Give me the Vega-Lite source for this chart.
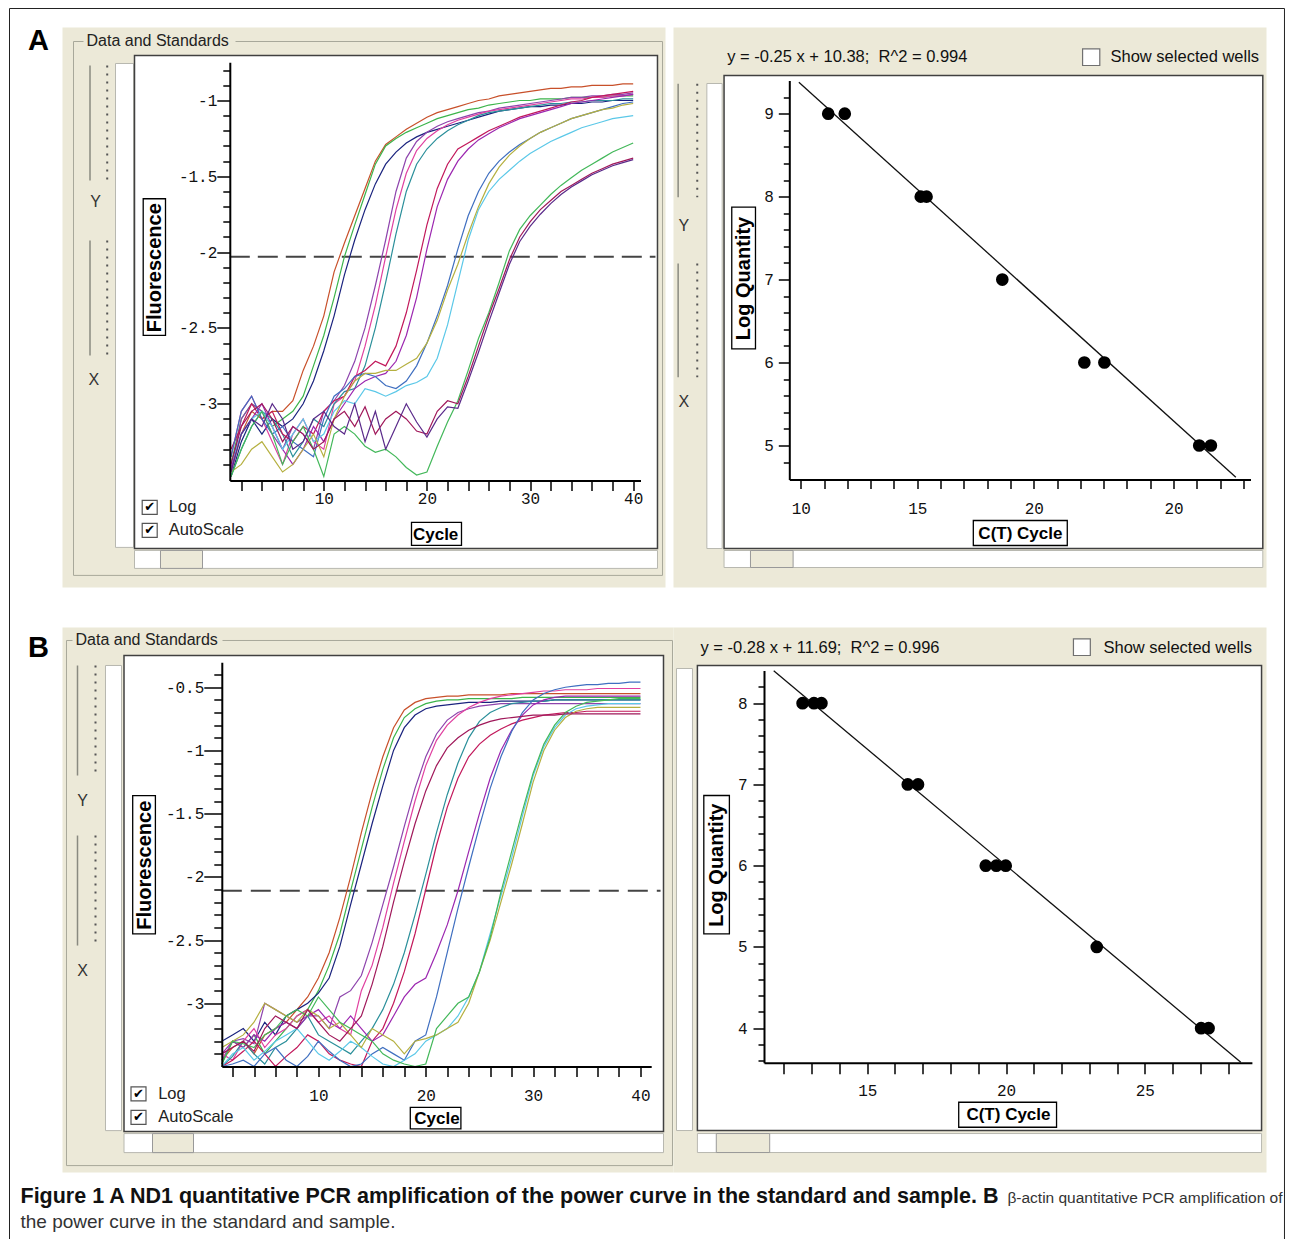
{
"$schema": "https://vega.github.io/schema/vega-lite/v6.json",
"background": "white",
"padding": {"left": 8.5, "top": 7.5, "right": 5.5, "bottom": 0},
"datasets": {
"curvesA": [
{"s":"a1","x":1,"y":-3.45},{"s":"a1","x":2,"y":-3.2},{"s":"a1","x":3,"y":-3.05},{"s":"a1","x":4,"y":-3.1},{"s":"a1","x":5,"y":-3.05},{"s":"a1","x":6,"y":-3.05},{"s":"a1","x":7,"y":-2.98},{"s":"a1","x":8,"y":-2.78},{"s":"a1","x":9,"y":-2.62},{"s":"a1","x":10,"y":-2.42},{"s":"a1","x":11,"y":-2.13},{"s":"a1","x":12,"y":-1.94},{"s":"a1","x":13,"y":-1.76},{"s":"a1","x":14,"y":-1.58},{"s":"a1","x":15,"y":-1.4},{"s":"a1","x":16,"y":-1.29},{"s":"a1","x":17,"y":-1.24},{"s":"a1","x":18,"y":-1.19},{"s":"a1","x":19,"y":-1.15},{"s":"a1","x":20,"y":-1.11},{"s":"a1","x":21,"y":-1.08},{"s":"a1","x":22,"y":-1.06},{"s":"a1","x":23,"y":-1.04},{"s":"a1","x":24,"y":-1.02},{"s":"a1","x":25,"y":-1},{"s":"a1","x":26,"y":-0.99},{"s":"a1","x":27,"y":-0.97},{"s":"a1","x":28,"y":-0.96},{"s":"a1","x":29,"y":-0.95},{"s":"a1","x":30,"y":-0.94},{"s":"a1","x":31,"y":-0.93},{"s":"a1","x":32,"y":-0.92},{"s":"a1","x":33,"y":-0.92},{"s":"a1","x":34,"y":-0.91},{"s":"a1","x":35,"y":-0.91},{"s":"a1","x":36,"y":-0.9},{"s":"a1","x":37,"y":-0.9},{"s":"a1","x":38,"y":-0.9},{"s":"a1","x":39,"y":-0.89},{"s":"a1","x":40,"y":-0.89},
{"s":"a2","x":1,"y":-3.4},{"s":"a2","x":2,"y":-3.1},{"s":"a2","x":3,"y":-3},{"s":"a2","x":4,"y":-3.05},{"s":"a2","x":5,"y":-3.15},{"s":"a2","x":6,"y":-3.1},{"s":"a2","x":7,"y":-3.05},{"s":"a2","x":8,"y":-2.95},{"s":"a2","x":9,"y":-2.75},{"s":"a2","x":10,"y":-2.55},{"s":"a2","x":11,"y":-2.3},{"s":"a2","x":12,"y":-2.03},{"s":"a2","x":13,"y":-1.82},{"s":"a2","x":14,"y":-1.62},{"s":"a2","x":15,"y":-1.42},{"s":"a2","x":16,"y":-1.3},{"s":"a2","x":17,"y":-1.25},{"s":"a2","x":18,"y":-1.21},{"s":"a2","x":19,"y":-1.18},{"s":"a2","x":20,"y":-1.15},{"s":"a2","x":21,"y":-1.12},{"s":"a2","x":22,"y":-1.1},{"s":"a2","x":23,"y":-1.08},{"s":"a2","x":24,"y":-1.06},{"s":"a2","x":25,"y":-1.05},{"s":"a2","x":26,"y":-1.03},{"s":"a2","x":27,"y":-1.02},{"s":"a2","x":28,"y":-1.01},{"s":"a2","x":29,"y":-1},{"s":"a2","x":30,"y":-1},{"s":"a2","x":31,"y":-0.99},{"s":"a2","x":32,"y":-0.99},{"s":"a2","x":33,"y":-0.99},{"s":"a2","x":34,"y":-0.98},{"s":"a2","x":35,"y":-0.98},{"s":"a2","x":36,"y":-0.98},{"s":"a2","x":37,"y":-0.98},{"s":"a2","x":38,"y":-0.97},{"s":"a2","x":39,"y":-0.97},{"s":"a2","x":40,"y":-0.97},
{"s":"a3","x":1,"y":-3.48},{"s":"a3","x":2,"y":-3.25},{"s":"a3","x":3,"y":-3.1},{"s":"a3","x":4,"y":-3.2},{"s":"a3","x":5,"y":-3.1},{"s":"a3","x":6,"y":-3.15},{"s":"a3","x":7,"y":-3.1},{"s":"a3","x":8,"y":-3},{"s":"a3","x":9,"y":-2.85},{"s":"a3","x":10,"y":-2.65},{"s":"a3","x":11,"y":-2.42},{"s":"a3","x":12,"y":-2.15},{"s":"a3","x":13,"y":-1.92},{"s":"a3","x":14,"y":-1.72},{"s":"a3","x":15,"y":-1.55},{"s":"a3","x":16,"y":-1.42},{"s":"a3","x":17,"y":-1.34},{"s":"a3","x":18,"y":-1.28},{"s":"a3","x":19,"y":-1.24},{"s":"a3","x":20,"y":-1.21},{"s":"a3","x":21,"y":-1.19},{"s":"a3","x":22,"y":-1.17},{"s":"a3","x":23,"y":-1.15},{"s":"a3","x":24,"y":-1.13},{"s":"a3","x":25,"y":-1.11},{"s":"a3","x":26,"y":-1.09},{"s":"a3","x":27,"y":-1.07},{"s":"a3","x":28,"y":-1.06},{"s":"a3","x":29,"y":-1.05},{"s":"a3","x":30,"y":-1.04},{"s":"a3","x":31,"y":-1.04},{"s":"a3","x":32,"y":-1.03},{"s":"a3","x":33,"y":-1.03},{"s":"a3","x":34,"y":-1.02},{"s":"a3","x":35,"y":-1.02},{"s":"a3","x":36,"y":-1.01},{"s":"a3","x":37,"y":-1.01},{"s":"a3","x":38,"y":-1},{"s":"a3","x":39,"y":-1},{"s":"a3","x":40,"y":-1},
{"s":"a4","x":1,"y":-3.45},{"s":"a4","x":2,"y":-3.1},{"s":"a4","x":3,"y":-3},{"s":"a4","x":4,"y":-3.05},{"s":"a4","x":5,"y":-3.2},{"s":"a4","x":6,"y":-3.3},{"s":"a4","x":7,"y":-3.15},{"s":"a4","x":8,"y":-3.2},{"s":"a4","x":9,"y":-3.3},{"s":"a4","x":10,"y":-3.05},{"s":"a4","x":11,"y":-2.98},{"s":"a4","x":12,"y":-2.88},{"s":"a4","x":13,"y":-2.72},{"s":"a4","x":14,"y":-2.5},{"s":"a4","x":15,"y":-2.22},{"s":"a4","x":16,"y":-1.92},{"s":"a4","x":17,"y":-1.6},{"s":"a4","x":18,"y":-1.38},{"s":"a4","x":19,"y":-1.27},{"s":"a4","x":20,"y":-1.21},{"s":"a4","x":21,"y":-1.17},{"s":"a4","x":22,"y":-1.14},{"s":"a4","x":23,"y":-1.12},{"s":"a4","x":24,"y":-1.1},{"s":"a4","x":25,"y":-1.08},{"s":"a4","x":26,"y":-1.07},{"s":"a4","x":27,"y":-1.05},{"s":"a4","x":28,"y":-1.04},{"s":"a4","x":29,"y":-1.03},{"s":"a4","x":30,"y":-1.02},{"s":"a4","x":31,"y":-1.01},{"s":"a4","x":32,"y":-1},{"s":"a4","x":33,"y":-0.99},{"s":"a4","x":34,"y":-0.98},{"s":"a4","x":35,"y":-0.98},{"s":"a4","x":36,"y":-0.97},{"s":"a4","x":37,"y":-0.97},{"s":"a4","x":38,"y":-0.96},{"s":"a4","x":39,"y":-0.96},{"s":"a4","x":40,"y":-0.95},
{"s":"a5","x":1,"y":-3.35},{"s":"a5","x":2,"y":-3.05},{"s":"a5","x":3,"y":-2.95},{"s":"a5","x":4,"y":-3.1},{"s":"a5","x":5,"y":-3.25},{"s":"a5","x":6,"y":-3.4},{"s":"a5","x":7,"y":-3.2},{"s":"a5","x":8,"y":-3.1},{"s":"a5","x":9,"y":-3.25},{"s":"a5","x":10,"y":-3.3},{"s":"a5","x":11,"y":-3},{"s":"a5","x":12,"y":-2.95},{"s":"a5","x":13,"y":-2.85},{"s":"a5","x":14,"y":-2.62},{"s":"a5","x":15,"y":-2.35},{"s":"a5","x":16,"y":-2.03},{"s":"a5","x":17,"y":-1.72},{"s":"a5","x":18,"y":-1.48},{"s":"a5","x":19,"y":-1.33},{"s":"a5","x":20,"y":-1.25},{"s":"a5","x":21,"y":-1.2},{"s":"a5","x":22,"y":-1.16},{"s":"a5","x":23,"y":-1.13},{"s":"a5","x":24,"y":-1.11},{"s":"a5","x":25,"y":-1.09},{"s":"a5","x":26,"y":-1.07},{"s":"a5","x":27,"y":-1.06},{"s":"a5","x":28,"y":-1.05},{"s":"a5","x":29,"y":-1.04},{"s":"a5","x":30,"y":-1.03},{"s":"a5","x":31,"y":-1.02},{"s":"a5","x":32,"y":-1.01},{"s":"a5","x":33,"y":-1},{"s":"a5","x":34,"y":-0.99},{"s":"a5","x":35,"y":-0.99},{"s":"a5","x":36,"y":-0.98},{"s":"a5","x":37,"y":-0.98},{"s":"a5","x":38,"y":-0.97},{"s":"a5","x":39,"y":-0.97},{"s":"a5","x":40,"y":-0.96},
{"s":"a6","x":1,"y":-3.48},{"s":"a6","x":2,"y":-3.3},{"s":"a6","x":3,"y":-3.15},{"s":"a6","x":4,"y":-3.05},{"s":"a6","x":5,"y":-3.1},{"s":"a6","x":6,"y":-3.2},{"s":"a6","x":7,"y":-3.35},{"s":"a6","x":8,"y":-3.25},{"s":"a6","x":9,"y":-3.1},{"s":"a6","x":10,"y":-3.15},{"s":"a6","x":11,"y":-3},{"s":"a6","x":12,"y":-2.92},{"s":"a6","x":13,"y":-2.9},{"s":"a6","x":14,"y":-2.75},{"s":"a6","x":15,"y":-2.5},{"s":"a6","x":16,"y":-2.2},{"s":"a6","x":17,"y":-1.88},{"s":"a6","x":18,"y":-1.6},{"s":"a6","x":19,"y":-1.42},{"s":"a6","x":20,"y":-1.32},{"s":"a6","x":21,"y":-1.25},{"s":"a6","x":22,"y":-1.2},{"s":"a6","x":23,"y":-1.16},{"s":"a6","x":24,"y":-1.13},{"s":"a6","x":25,"y":-1.1},{"s":"a6","x":26,"y":-1.08},{"s":"a6","x":27,"y":-1.07},{"s":"a6","x":28,"y":-1.06},{"s":"a6","x":29,"y":-1.05},{"s":"a6","x":30,"y":-1.04},{"s":"a6","x":31,"y":-1.03},{"s":"a6","x":32,"y":-1.02},{"s":"a6","x":33,"y":-1.02},{"s":"a6","x":34,"y":-1.01},{"s":"a6","x":35,"y":-1.01},{"s":"a6","x":36,"y":-1},{"s":"a6","x":37,"y":-1},{"s":"a6","x":38,"y":-1},{"s":"a6","x":39,"y":-0.99},{"s":"a6","x":40,"y":-0.99},
{"s":"a7","x":1,"y":-3.3},{"s":"a7","x":2,"y":-3.15},{"s":"a7","x":3,"y":-3},{"s":"a7","x":4,"y":-3.1},{"s":"a7","x":5,"y":-3.05},{"s":"a7","x":6,"y":-3.2},{"s":"a7","x":7,"y":-3.25},{"s":"a7","x":8,"y":-3.15},{"s":"a7","x":9,"y":-3.2},{"s":"a7","x":10,"y":-3.05},{"s":"a7","x":11,"y":-2.98},{"s":"a7","x":12,"y":-2.95},{"s":"a7","x":13,"y":-2.82},{"s":"a7","x":14,"y":-2.78},{"s":"a7","x":15,"y":-2.72},{"s":"a7","x":16,"y":-2.75},{"s":"a7","x":17,"y":-2.62},{"s":"a7","x":18,"y":-2.4},{"s":"a7","x":19,"y":-2.12},{"s":"a7","x":20,"y":-1.82},{"s":"a7","x":21,"y":-1.58},{"s":"a7","x":22,"y":-1.42},{"s":"a7","x":23,"y":-1.32},{"s":"a7","x":24,"y":-1.28},{"s":"a7","x":25,"y":-1.24},{"s":"a7","x":26,"y":-1.2},{"s":"a7","x":27,"y":-1.17},{"s":"a7","x":28,"y":-1.14},{"s":"a7","x":29,"y":-1.11},{"s":"a7","x":30,"y":-1.09},{"s":"a7","x":31,"y":-1.07},{"s":"a7","x":32,"y":-1.05},{"s":"a7","x":33,"y":-1.03},{"s":"a7","x":34,"y":-1.01},{"s":"a7","x":35,"y":-1},{"s":"a7","x":36,"y":-0.98},{"s":"a7","x":37,"y":-0.97},{"s":"a7","x":38,"y":-0.96},{"s":"a7","x":39,"y":-0.95},{"s":"a7","x":40,"y":-0.94},
{"s":"a8","x":1,"y":-3.42},{"s":"a8","x":2,"y":-3.2},{"s":"a8","x":3,"y":-3.1},{"s":"a8","x":4,"y":-3},{"s":"a8","x":5,"y":-3.15},{"s":"a8","x":6,"y":-3.3},{"s":"a8","x":7,"y":-3.4},{"s":"a8","x":8,"y":-3.3},{"s":"a8","x":9,"y":-3.15},{"s":"a8","x":10,"y":-3.25},{"s":"a8","x":11,"y":-3.1},{"s":"a8","x":12,"y":-3},{"s":"a8","x":13,"y":-2.9},{"s":"a8","x":14,"y":-2.85},{"s":"a8","x":15,"y":-2.82},{"s":"a8","x":16,"y":-2.8},{"s":"a8","x":17,"y":-2.72},{"s":"a8","x":18,"y":-2.55},{"s":"a8","x":19,"y":-2.3},{"s":"a8","x":20,"y":-1.98},{"s":"a8","x":21,"y":-1.7},{"s":"a8","x":22,"y":-1.52},{"s":"a8","x":23,"y":-1.4},{"s":"a8","x":24,"y":-1.32},{"s":"a8","x":25,"y":-1.26},{"s":"a8","x":26,"y":-1.22},{"s":"a8","x":27,"y":-1.18},{"s":"a8","x":28,"y":-1.15},{"s":"a8","x":29,"y":-1.12},{"s":"a8","x":30,"y":-1.1},{"s":"a8","x":31,"y":-1.08},{"s":"a8","x":32,"y":-1.06},{"s":"a8","x":33,"y":-1.04},{"s":"a8","x":34,"y":-1.02},{"s":"a8","x":35,"y":-1.01},{"s":"a8","x":36,"y":-1},{"s":"a8","x":37,"y":-0.99},{"s":"a8","x":38,"y":-0.98},{"s":"a8","x":39,"y":-0.97},{"s":"a8","x":40,"y":-0.96},
{"s":"a9","x":1,"y":-3.35},{"s":"a9","x":2,"y":-3.05},{"s":"a9","x":3,"y":-2.95},{"s":"a9","x":4,"y":-3.1},{"s":"a9","x":5,"y":-3.2},{"s":"a9","x":6,"y":-3.15},{"s":"a9","x":7,"y":-3.25},{"s":"a9","x":8,"y":-3.3},{"s":"a9","x":9,"y":-3.35},{"s":"a9","x":10,"y":-3.1},{"s":"a9","x":11,"y":-2.95},{"s":"a9","x":12,"y":-2.9},{"s":"a9","x":13,"y":-2.82},{"s":"a9","x":14,"y":-2.8},{"s":"a9","x":15,"y":-2.82},{"s":"a9","x":16,"y":-2.88},{"s":"a9","x":17,"y":-2.9},{"s":"a9","x":18,"y":-2.85},{"s":"a9","x":19,"y":-2.75},{"s":"a9","x":20,"y":-2.6},{"s":"a9","x":21,"y":-2.42},{"s":"a9","x":22,"y":-2.22},{"s":"a9","x":23,"y":-1.98},{"s":"a9","x":24,"y":-1.76},{"s":"a9","x":25,"y":-1.6},{"s":"a9","x":26,"y":-1.48},{"s":"a9","x":27,"y":-1.4},{"s":"a9","x":28,"y":-1.34},{"s":"a9","x":29,"y":-1.29},{"s":"a9","x":30,"y":-1.25},{"s":"a9","x":31,"y":-1.21},{"s":"a9","x":32,"y":-1.18},{"s":"a9","x":33,"y":-1.15},{"s":"a9","x":34,"y":-1.12},{"s":"a9","x":35,"y":-1.1},{"s":"a9","x":36,"y":-1.08},{"s":"a9","x":37,"y":-1.06},{"s":"a9","x":38,"y":-1.04},{"s":"a9","x":39,"y":-1.02},{"s":"a9","x":40,"y":-1.01},
{"s":"a10","x":1,"y":-3.4},{"s":"a10","x":2,"y":-3.2},{"s":"a10","x":3,"y":-3.1},{"s":"a10","x":4,"y":-3.05},{"s":"a10","x":5,"y":-3.15},{"s":"a10","x":6,"y":-3.3},{"s":"a10","x":7,"y":-3.2},{"s":"a10","x":8,"y":-3.1},{"s":"a10","x":9,"y":-3.25},{"s":"a10","x":10,"y":-3.2},{"s":"a10","x":11,"y":-3.05},{"s":"a10","x":12,"y":-2.98},{"s":"a10","x":13,"y":-3},{"s":"a10","x":14,"y":-2.9},{"s":"a10","x":15,"y":-2.92},{"s":"a10","x":16,"y":-2.95},{"s":"a10","x":17,"y":-2.92},{"s":"a10","x":18,"y":-2.88},{"s":"a10","x":19,"y":-2.86},{"s":"a10","x":20,"y":-2.82},{"s":"a10","x":21,"y":-2.7},{"s":"a10","x":22,"y":-2.48},{"s":"a10","x":23,"y":-2.2},{"s":"a10","x":24,"y":-1.92},{"s":"a10","x":25,"y":-1.72},{"s":"a10","x":26,"y":-1.6},{"s":"a10","x":27,"y":-1.52},{"s":"a10","x":28,"y":-1.46},{"s":"a10","x":29,"y":-1.4},{"s":"a10","x":30,"y":-1.35},{"s":"a10","x":31,"y":-1.31},{"s":"a10","x":32,"y":-1.27},{"s":"a10","x":33,"y":-1.24},{"s":"a10","x":34,"y":-1.21},{"s":"a10","x":35,"y":-1.18},{"s":"a10","x":36,"y":-1.16},{"s":"a10","x":37,"y":-1.14},{"s":"a10","x":38,"y":-1.12},{"s":"a10","x":39,"y":-1.11},{"s":"a10","x":40,"y":-1.1},
{"s":"a11","x":1,"y":-3.45},{"s":"a11","x":2,"y":-3.4},{"s":"a11","x":3,"y":-3.3},{"s":"a11","x":4,"y":-3.25},{"s":"a11","x":5,"y":-3.35},{"s":"a11","x":6,"y":-3.45},{"s":"a11","x":7,"y":-3.4},{"s":"a11","x":8,"y":-3.3},{"s":"a11","x":9,"y":-3.2},{"s":"a11","x":10,"y":-3.35},{"s":"a11","x":11,"y":-3.1},{"s":"a11","x":12,"y":-2.95},{"s":"a11","x":13,"y":-2.85},{"s":"a11","x":14,"y":-2.8},{"s":"a11","x":15,"y":-2.8},{"s":"a11","x":16,"y":-2.78},{"s":"a11","x":17,"y":-2.78},{"s":"a11","x":18,"y":-2.74},{"s":"a11","x":19,"y":-2.7},{"s":"a11","x":20,"y":-2.6},{"s":"a11","x":21,"y":-2.45},{"s":"a11","x":22,"y":-2.25},{"s":"a11","x":23,"y":-2.08},{"s":"a11","x":24,"y":-1.88},{"s":"a11","x":25,"y":-1.7},{"s":"a11","x":26,"y":-1.55},{"s":"a11","x":27,"y":-1.44},{"s":"a11","x":28,"y":-1.36},{"s":"a11","x":29,"y":-1.3},{"s":"a11","x":30,"y":-1.25},{"s":"a11","x":31,"y":-1.21},{"s":"a11","x":32,"y":-1.18},{"s":"a11","x":33,"y":-1.15},{"s":"a11","x":34,"y":-1.12},{"s":"a11","x":35,"y":-1.1},{"s":"a11","x":36,"y":-1.08},{"s":"a11","x":37,"y":-1.06},{"s":"a11","x":38,"y":-1.05},{"s":"a11","x":39,"y":-1.03},{"s":"a11","x":40,"y":-1.02},
{"s":"a12","x":1,"y":-3.48},{"s":"a12","x":2,"y":-3.3},{"s":"a12","x":3,"y":-3.15},{"s":"a12","x":4,"y":-3.05},{"s":"a12","x":5,"y":-3.2},{"s":"a12","x":6,"y":-3.4},{"s":"a12","x":7,"y":-3.25},{"s":"a12","x":8,"y":-3.15},{"s":"a12","x":9,"y":-3.3},{"s":"a12","x":10,"y":-3.48},{"s":"a12","x":11,"y":-3.2},{"s":"a12","x":12,"y":-3.15},{"s":"a12","x":13,"y":-3.2},{"s":"a12","x":14,"y":-3.28},{"s":"a12","x":15,"y":-3.32},{"s":"a12","x":16,"y":-3.3},{"s":"a12","x":17,"y":-3.35},{"s":"a12","x":18,"y":-3.42},{"s":"a12","x":19,"y":-3.47},{"s":"a12","x":20,"y":-3.45},{"s":"a12","x":21,"y":-3.28},{"s":"a12","x":22,"y":-3.12},{"s":"a12","x":23,"y":-2.98},{"s":"a12","x":24,"y":-2.78},{"s":"a12","x":25,"y":-2.57},{"s":"a12","x":26,"y":-2.4},{"s":"a12","x":27,"y":-2.2},{"s":"a12","x":28,"y":-1.99},{"s":"a12","x":29,"y":-1.85},{"s":"a12","x":30,"y":-1.76},{"s":"a12","x":31,"y":-1.69},{"s":"a12","x":32,"y":-1.62},{"s":"a12","x":33,"y":-1.56},{"s":"a12","x":34,"y":-1.51},{"s":"a12","x":35,"y":-1.46},{"s":"a12","x":36,"y":-1.42},{"s":"a12","x":37,"y":-1.38},{"s":"a12","x":38,"y":-1.34},{"s":"a12","x":39,"y":-1.31},{"s":"a12","x":40,"y":-1.28},
{"s":"a13","x":1,"y":-3.4},{"s":"a13","x":2,"y":-3.15},{"s":"a13","x":3,"y":-3.05},{"s":"a13","x":4,"y":-3},{"s":"a13","x":5,"y":-3.1},{"s":"a13","x":6,"y":-3.25},{"s":"a13","x":7,"y":-3.15},{"s":"a13","x":8,"y":-3.2},{"s":"a13","x":9,"y":-3.3},{"s":"a13","x":10,"y":-3.25},{"s":"a13","x":11,"y":-3.1},{"s":"a13","x":12,"y":-3.05},{"s":"a13","x":13,"y":-3.15},{"s":"a13","x":14,"y":-3.02},{"s":"a13","x":15,"y":-3.2},{"s":"a13","x":16,"y":-3.1},{"s":"a13","x":17,"y":-3.05},{"s":"a13","x":18,"y":-3.1},{"s":"a13","x":19,"y":-3.18},{"s":"a13","x":20,"y":-3.2},{"s":"a13","x":21,"y":-3.05},{"s":"a13","x":22,"y":-2.98},{"s":"a13","x":23,"y":-3},{"s":"a13","x":24,"y":-2.82},{"s":"a13","x":25,"y":-2.62},{"s":"a13","x":26,"y":-2.42},{"s":"a13","x":27,"y":-2.24},{"s":"a13","x":28,"y":-2.05},{"s":"a13","x":29,"y":-1.9},{"s":"a13","x":30,"y":-1.8},{"s":"a13","x":31,"y":-1.72},{"s":"a13","x":32,"y":-1.66},{"s":"a13","x":33,"y":-1.6},{"s":"a13","x":34,"y":-1.56},{"s":"a13","x":35,"y":-1.52},{"s":"a13","x":36,"y":-1.48},{"s":"a13","x":37,"y":-1.45},{"s":"a13","x":38,"y":-1.42},{"s":"a13","x":39,"y":-1.4},{"s":"a13","x":40,"y":-1.38},
{"s":"a14","x":1,"y":-3.45},{"s":"a14","x":2,"y":-3.2},{"s":"a14","x":3,"y":-3.1},{"s":"a14","x":4,"y":-3.15},{"s":"a14","x":5,"y":-3},{"s":"a14","x":6,"y":-3.1},{"s":"a14","x":7,"y":-3.3},{"s":"a14","x":8,"y":-3.25},{"s":"a14","x":9,"y":-3.1},{"s":"a14","x":10,"y":-3.05},{"s":"a14","x":11,"y":-3.15},{"s":"a14","x":12,"y":-3.2},{"s":"a14","x":13,"y":-3},{"s":"a14","x":14,"y":-3.25},{"s":"a14","x":15,"y":-3.05},{"s":"a14","x":16,"y":-3.3},{"s":"a14","x":17,"y":-3.15},{"s":"a14","x":18,"y":-3},{"s":"a14","x":19,"y":-3.12},{"s":"a14","x":20,"y":-3.22},{"s":"a14","x":21,"y":-3.1},{"s":"a14","x":22,"y":-3.02},{"s":"a14","x":23,"y":-3.03},{"s":"a14","x":24,"y":-2.85},{"s":"a14","x":25,"y":-2.66},{"s":"a14","x":26,"y":-2.46},{"s":"a14","x":27,"y":-2.27},{"s":"a14","x":28,"y":-2.08},{"s":"a14","x":29,"y":-1.93},{"s":"a14","x":30,"y":-1.83},{"s":"a14","x":31,"y":-1.75},{"s":"a14","x":32,"y":-1.68},{"s":"a14","x":33,"y":-1.62},{"s":"a14","x":34,"y":-1.57},{"s":"a14","x":35,"y":-1.53},{"s":"a14","x":36,"y":-1.49},{"s":"a14","x":37,"y":-1.46},{"s":"a14","x":38,"y":-1.43},{"s":"a14","x":39,"y":-1.41},{"s":"a14","x":40,"y":-1.39}
],
"curvesB": [
{"s":"b1","x":1,"y":-3.45},{"s":"b1","x":2,"y":-3.35},{"s":"b1","x":3,"y":-3.3},{"s":"b1","x":4,"y":-3.4},{"s":"b1","x":5,"y":-3.25},{"s":"b1","x":6,"y":-3.2},{"s":"b1","x":7,"y":-3.15},{"s":"b1","x":8,"y":-3.05},{"s":"b1","x":9,"y":-2.95},{"s":"b1","x":10,"y":-2.8},{"s":"b1","x":11,"y":-2.6},{"s":"b1","x":12,"y":-2.32},{"s":"b1","x":13,"y":-2},{"s":"b1","x":14,"y":-1.65},{"s":"b1","x":15,"y":-1.33},{"s":"b1","x":16,"y":-1.05},{"s":"b1","x":17,"y":-0.82},{"s":"b1","x":18,"y":-0.68},{"s":"b1","x":19,"y":-0.62},{"s":"b1","x":20,"y":-0.59},{"s":"b1","x":21,"y":-0.58},{"s":"b1","x":22,"y":-0.57},{"s":"b1","x":23,"y":-0.57},{"s":"b1","x":24,"y":-0.56},{"s":"b1","x":25,"y":-0.56},{"s":"b1","x":26,"y":-0.56},{"s":"b1","x":27,"y":-0.56},{"s":"b1","x":28,"y":-0.55},{"s":"b1","x":29,"y":-0.55},{"s":"b1","x":30,"y":-0.55},{"s":"b1","x":31,"y":-0.55},{"s":"b1","x":32,"y":-0.55},{"s":"b1","x":33,"y":-0.55},{"s":"b1","x":34,"y":-0.55},{"s":"b1","x":35,"y":-0.55},{"s":"b1","x":36,"y":-0.55},{"s":"b1","x":37,"y":-0.55},{"s":"b1","x":38,"y":-0.55},{"s":"b1","x":39,"y":-0.55},{"s":"b1","x":40,"y":-0.55},
{"s":"b2","x":1,"y":-3.48},{"s":"b2","x":2,"y":-3.3},{"s":"b2","x":3,"y":-3.35},{"s":"b2","x":4,"y":-3.25},{"s":"b2","x":5,"y":-3.4},{"s":"b2","x":6,"y":-3.3},{"s":"b2","x":7,"y":-3.2},{"s":"b2","x":8,"y":-3.1},{"s":"b2","x":9,"y":-3.05},{"s":"b2","x":10,"y":-2.9},{"s":"b2","x":11,"y":-2.7},{"s":"b2","x":12,"y":-2.45},{"s":"b2","x":13,"y":-2.11},{"s":"b2","x":14,"y":-1.78},{"s":"b2","x":15,"y":-1.45},{"s":"b2","x":16,"y":-1.15},{"s":"b2","x":17,"y":-0.9},{"s":"b2","x":18,"y":-0.74},{"s":"b2","x":19,"y":-0.67},{"s":"b2","x":20,"y":-0.63},{"s":"b2","x":21,"y":-0.61},{"s":"b2","x":22,"y":-0.6},{"s":"b2","x":23,"y":-0.6},{"s":"b2","x":24,"y":-0.59},{"s":"b2","x":25,"y":-0.59},{"s":"b2","x":26,"y":-0.59},{"s":"b2","x":27,"y":-0.59},{"s":"b2","x":28,"y":-0.59},{"s":"b2","x":29,"y":-0.58},{"s":"b2","x":30,"y":-0.58},{"s":"b2","x":31,"y":-0.58},{"s":"b2","x":32,"y":-0.58},{"s":"b2","x":33,"y":-0.58},{"s":"b2","x":34,"y":-0.58},{"s":"b2","x":35,"y":-0.58},{"s":"b2","x":36,"y":-0.58},{"s":"b2","x":37,"y":-0.58},{"s":"b2","x":38,"y":-0.58},{"s":"b2","x":39,"y":-0.58},{"s":"b2","x":40,"y":-0.58},
{"s":"b3","x":1,"y":-3.3},{"s":"b3","x":2,"y":-3.25},{"s":"b3","x":3,"y":-3.2},{"s":"b3","x":4,"y":-3.3},{"s":"b3","x":5,"y":-3.15},{"s":"b3","x":6,"y":-3.25},{"s":"b3","x":7,"y":-3.1},{"s":"b3","x":8,"y":-3.05},{"s":"b3","x":9,"y":-3},{"s":"b3","x":10,"y":-2.92},{"s":"b3","x":11,"y":-2.8},{"s":"b3","x":12,"y":-2.55},{"s":"b3","x":13,"y":-2.22},{"s":"b3","x":14,"y":-1.9},{"s":"b3","x":15,"y":-1.58},{"s":"b3","x":16,"y":-1.28},{"s":"b3","x":17,"y":-1},{"s":"b3","x":18,"y":-0.82},{"s":"b3","x":19,"y":-0.72},{"s":"b3","x":20,"y":-0.67},{"s":"b3","x":21,"y":-0.65},{"s":"b3","x":22,"y":-0.64},{"s":"b3","x":23,"y":-0.63},{"s":"b3","x":24,"y":-0.62},{"s":"b3","x":25,"y":-0.62},{"s":"b3","x":26,"y":-0.62},{"s":"b3","x":27,"y":-0.61},{"s":"b3","x":28,"y":-0.61},{"s":"b3","x":29,"y":-0.61},{"s":"b3","x":30,"y":-0.61},{"s":"b3","x":31,"y":-0.61},{"s":"b3","x":32,"y":-0.6},{"s":"b3","x":33,"y":-0.6},{"s":"b3","x":34,"y":-0.6},{"s":"b3","x":35,"y":-0.6},{"s":"b3","x":36,"y":-0.6},{"s":"b3","x":37,"y":-0.6},{"s":"b3","x":38,"y":-0.6},{"s":"b3","x":39,"y":-0.6},{"s":"b3","x":40,"y":-0.6},
{"s":"b4","x":1,"y":-3.45},{"s":"b4","x":2,"y":-3.3},{"s":"b4","x":3,"y":-3.28},{"s":"b4","x":4,"y":-3.32},{"s":"b4","x":5,"y":-3},{"s":"b4","x":6,"y":-3.05},{"s":"b4","x":7,"y":-3.1},{"s":"b4","x":8,"y":-3.15},{"s":"b4","x":9,"y":-3.1},{"s":"b4","x":10,"y":-3.1},{"s":"b4","x":11,"y":-3.2},{"s":"b4","x":12,"y":-2.95},{"s":"b4","x":13,"y":-2.9},{"s":"b4","x":14,"y":-2.78},{"s":"b4","x":15,"y":-2.52},{"s":"b4","x":16,"y":-2.22},{"s":"b4","x":17,"y":-1.92},{"s":"b4","x":18,"y":-1.6},{"s":"b4","x":19,"y":-1.3},{"s":"b4","x":20,"y":-1.05},{"s":"b4","x":21,"y":-0.87},{"s":"b4","x":22,"y":-0.76},{"s":"b4","x":23,"y":-0.7},{"s":"b4","x":24,"y":-0.67},{"s":"b4","x":25,"y":-0.65},{"s":"b4","x":26,"y":-0.64},{"s":"b4","x":27,"y":-0.63},{"s":"b4","x":28,"y":-0.63},{"s":"b4","x":29,"y":-0.63},{"s":"b4","x":30,"y":-0.63},{"s":"b4","x":31,"y":-0.63},{"s":"b4","x":32,"y":-0.63},{"s":"b4","x":33,"y":-0.63},{"s":"b4","x":34,"y":-0.63},{"s":"b4","x":35,"y":-0.63},{"s":"b4","x":36,"y":-0.63},{"s":"b4","x":37,"y":-0.63},{"s":"b4","x":38,"y":-0.63},{"s":"b4","x":39,"y":-0.63},{"s":"b4","x":40,"y":-0.63},
{"s":"b5","x":1,"y":-3.4},{"s":"b5","x":2,"y":-3.45},{"s":"b5","x":3,"y":-3.3},{"s":"b5","x":4,"y":-3.2},{"s":"b5","x":5,"y":-3.35},{"s":"b5","x":6,"y":-3.25},{"s":"b5","x":7,"y":-3.2},{"s":"b5","x":8,"y":-3.1},{"s":"b5","x":9,"y":-3.05},{"s":"b5","x":10,"y":-3.15},{"s":"b5","x":11,"y":-3.1},{"s":"b5","x":12,"y":-3.2},{"s":"b5","x":13,"y":-3.25},{"s":"b5","x":14,"y":-2.9},{"s":"b5","x":15,"y":-2.7},{"s":"b5","x":16,"y":-2.4},{"s":"b5","x":17,"y":-2.05},{"s":"b5","x":18,"y":-1.72},{"s":"b5","x":19,"y":-1.4},{"s":"b5","x":20,"y":-1.12},{"s":"b5","x":21,"y":-0.92},{"s":"b5","x":22,"y":-0.8},{"s":"b5","x":23,"y":-0.72},{"s":"b5","x":24,"y":-0.66},{"s":"b5","x":25,"y":-0.62},{"s":"b5","x":26,"y":-0.59},{"s":"b5","x":27,"y":-0.57},{"s":"b5","x":28,"y":-0.56},{"s":"b5","x":29,"y":-0.55},{"s":"b5","x":30,"y":-0.54},{"s":"b5","x":31,"y":-0.53},{"s":"b5","x":32,"y":-0.53},{"s":"b5","x":33,"y":-0.52},{"s":"b5","x":34,"y":-0.52},{"s":"b5","x":35,"y":-0.52},{"s":"b5","x":36,"y":-0.51},{"s":"b5","x":37,"y":-0.51},{"s":"b5","x":38,"y":-0.51},{"s":"b5","x":39,"y":-0.51},{"s":"b5","x":40,"y":-0.51},
{"s":"b6","x":1,"y":-3.5},{"s":"b6","x":2,"y":-3.42},{"s":"b6","x":3,"y":-3.3},{"s":"b6","x":4,"y":-3.4},{"s":"b6","x":5,"y":-3.48},{"s":"b6","x":6,"y":-3.35},{"s":"b6","x":7,"y":-3.3},{"s":"b6","x":8,"y":-3.2},{"s":"b6","x":9,"y":-3.1},{"s":"b6","x":10,"y":-3.25},{"s":"b6","x":11,"y":-3.3},{"s":"b6","x":12,"y":-3.35},{"s":"b6","x":13,"y":-3.4},{"s":"b6","x":14,"y":-3.3},{"s":"b6","x":15,"y":-3.2},{"s":"b6","x":16,"y":-3.05},{"s":"b6","x":17,"y":-2.85},{"s":"b6","x":18,"y":-2.6},{"s":"b6","x":19,"y":-2.3},{"s":"b6","x":20,"y":-1.98},{"s":"b6","x":21,"y":-1.65},{"s":"b6","x":22,"y":-1.35},{"s":"b6","x":23,"y":-1.1},{"s":"b6","x":24,"y":-0.9},{"s":"b6","x":25,"y":-0.77},{"s":"b6","x":26,"y":-0.7},{"s":"b6","x":27,"y":-0.66},{"s":"b6","x":28,"y":-0.63},{"s":"b6","x":29,"y":-0.62},{"s":"b6","x":30,"y":-0.61},{"s":"b6","x":31,"y":-0.61},{"s":"b6","x":32,"y":-0.6},{"s":"b6","x":33,"y":-0.6},{"s":"b6","x":34,"y":-0.6},{"s":"b6","x":35,"y":-0.6},{"s":"b6","x":36,"y":-0.6},{"s":"b6","x":37,"y":-0.6},{"s":"b6","x":38,"y":-0.6},{"s":"b6","x":39,"y":-0.6},{"s":"b6","x":40,"y":-0.6},
{"s":"b7","x":1,"y":-3.5},{"s":"b7","x":2,"y":-3.45},{"s":"b7","x":3,"y":-3.38},{"s":"b7","x":4,"y":-3.3},{"s":"b7","x":5,"y":-3.4},{"s":"b7","x":6,"y":-3.5},{"s":"b7","x":7,"y":-3.42},{"s":"b7","x":8,"y":-3.35},{"s":"b7","x":9,"y":-3.25},{"s":"b7","x":10,"y":-3.3},{"s":"b7","x":11,"y":-3.4},{"s":"b7","x":12,"y":-3.45},{"s":"b7","x":13,"y":-3.48},{"s":"b7","x":14,"y":-3.5},{"s":"b7","x":15,"y":-3.3},{"s":"b7","x":16,"y":-3.2},{"s":"b7","x":17,"y":-3},{"s":"b7","x":18,"y":-2.75},{"s":"b7","x":19,"y":-2.45},{"s":"b7","x":20,"y":-2.1},{"s":"b7","x":21,"y":-1.75},{"s":"b7","x":22,"y":-1.45},{"s":"b7","x":23,"y":-1.22},{"s":"b7","x":24,"y":-1.05},{"s":"b7","x":25,"y":-0.95},{"s":"b7","x":26,"y":-0.88},{"s":"b7","x":27,"y":-0.83},{"s":"b7","x":28,"y":-0.79},{"s":"b7","x":29,"y":-0.76},{"s":"b7","x":30,"y":-0.74},{"s":"b7","x":31,"y":-0.72},{"s":"b7","x":32,"y":-0.71},{"s":"b7","x":33,"y":-0.7},{"s":"b7","x":34,"y":-0.7},{"s":"b7","x":35,"y":-0.69},{"s":"b7","x":36,"y":-0.69},{"s":"b7","x":37,"y":-0.69},{"s":"b7","x":38,"y":-0.69},{"s":"b7","x":39,"y":-0.69},{"s":"b7","x":40,"y":-0.69},
{"s":"b8","x":1,"y":-3.4},{"s":"b8","x":2,"y":-3.3},{"s":"b8","x":3,"y":-3.35},{"s":"b8","x":4,"y":-3.25},{"s":"b8","x":5,"y":-3.3},{"s":"b8","x":6,"y":-3.2},{"s":"b8","x":7,"y":-3.15},{"s":"b8","x":8,"y":-3.2},{"s":"b8","x":9,"y":-3.1},{"s":"b8","x":10,"y":-3.05},{"s":"b8","x":11,"y":-3.15},{"s":"b8","x":12,"y":-3.2},{"s":"b8","x":13,"y":-3.1},{"s":"b8","x":14,"y":-3.2},{"s":"b8","x":15,"y":-3.3},{"s":"b8","x":16,"y":-3.25},{"s":"b8","x":17,"y":-3.1},{"s":"b8","x":18,"y":-2.95},{"s":"b8","x":19,"y":-2.85},{"s":"b8","x":20,"y":-2.8},{"s":"b8","x":21,"y":-2.6},{"s":"b8","x":22,"y":-2.38},{"s":"b8","x":23,"y":-2.11},{"s":"b8","x":24,"y":-1.8},{"s":"b8","x":25,"y":-1.5},{"s":"b8","x":26,"y":-1.22},{"s":"b8","x":27,"y":-1},{"s":"b8","x":28,"y":-0.84},{"s":"b8","x":29,"y":-0.72},{"s":"b8","x":30,"y":-0.64},{"s":"b8","x":31,"y":-0.6},{"s":"b8","x":32,"y":-0.58},{"s":"b8","x":33,"y":-0.57},{"s":"b8","x":34,"y":-0.57},{"s":"b8","x":35,"y":-0.57},{"s":"b8","x":36,"y":-0.57},{"s":"b8","x":37,"y":-0.57},{"s":"b8","x":38,"y":-0.57},{"s":"b8","x":39,"y":-0.57},{"s":"b8","x":40,"y":-0.57},
{"s":"b9","x":1,"y":-3.5},{"s":"b9","x":2,"y":-3.48},{"s":"b9","x":3,"y":-3.45},{"s":"b9","x":4,"y":-3.5},{"s":"b9","x":5,"y":-3.4},{"s":"b9","x":6,"y":-3.35},{"s":"b9","x":7,"y":-3.45},{"s":"b9","x":8,"y":-3.5},{"s":"b9","x":9,"y":-3.42},{"s":"b9","x":10,"y":-3.3},{"s":"b9","x":11,"y":-3.38},{"s":"b9","x":12,"y":-3.45},{"s":"b9","x":13,"y":-3.5},{"s":"b9","x":14,"y":-3.48},{"s":"b9","x":15,"y":-3.4},{"s":"b9","x":16,"y":-3.35},{"s":"b9","x":17,"y":-3.4},{"s":"b9","x":18,"y":-3.45},{"s":"b9","x":19,"y":-3.3},{"s":"b9","x":20,"y":-3.25},{"s":"b9","x":21,"y":-2.95},{"s":"b9","x":22,"y":-2.6},{"s":"b9","x":23,"y":-2.25},{"s":"b9","x":24,"y":-1.92},{"s":"b9","x":25,"y":-1.6},{"s":"b9","x":26,"y":-1.3},{"s":"b9","x":27,"y":-1.05},{"s":"b9","x":28,"y":-0.85},{"s":"b9","x":29,"y":-0.7},{"s":"b9","x":30,"y":-0.6},{"s":"b9","x":31,"y":-0.55},{"s":"b9","x":32,"y":-0.52},{"s":"b9","x":33,"y":-0.5},{"s":"b9","x":34,"y":-0.49},{"s":"b9","x":35,"y":-0.48},{"s":"b9","x":36,"y":-0.48},{"s":"b9","x":37,"y":-0.47},{"s":"b9","x":38,"y":-0.47},{"s":"b9","x":39,"y":-0.46},{"s":"b9","x":40,"y":-0.46},
{"s":"b10","x":1,"y":-3.5},{"s":"b10","x":2,"y":-3.4},{"s":"b10","x":3,"y":-3.35},{"s":"b10","x":4,"y":-3.45},{"s":"b10","x":5,"y":-3.38},{"s":"b10","x":6,"y":-3.3},{"s":"b10","x":7,"y":-3.25},{"s":"b10","x":8,"y":-3.2},{"s":"b10","x":9,"y":-3.3},{"s":"b10","x":10,"y":-3.4},{"s":"b10","x":11,"y":-3.45},{"s":"b10","x":12,"y":-3.38},{"s":"b10","x":13,"y":-3.3},{"s":"b10","x":14,"y":-3.35},{"s":"b10","x":15,"y":-3.42},{"s":"b10","x":16,"y":-3.48},{"s":"b10","x":17,"y":-3.5},{"s":"b10","x":18,"y":-3.45},{"s":"b10","x":19,"y":-3.4},{"s":"b10","x":20,"y":-3.3},{"s":"b10","x":21,"y":-3.25},{"s":"b10","x":22,"y":-3.2},{"s":"b10","x":23,"y":-3.1},{"s":"b10","x":24,"y":-2.95},{"s":"b10","x":25,"y":-2.75},{"s":"b10","x":26,"y":-2.45},{"s":"b10","x":27,"y":-2.15},{"s":"b10","x":28,"y":-1.85},{"s":"b10","x":29,"y":-1.52},{"s":"b10","x":30,"y":-1.2},{"s":"b10","x":31,"y":-0.97},{"s":"b10","x":32,"y":-0.82},{"s":"b10","x":33,"y":-0.72},{"s":"b10","x":34,"y":-0.67},{"s":"b10","x":35,"y":-0.65},{"s":"b10","x":36,"y":-0.64},{"s":"b10","x":37,"y":-0.63},{"s":"b10","x":38,"y":-0.63},{"s":"b10","x":39,"y":-0.63},{"s":"b10","x":40,"y":-0.63},
{"s":"b11","x":1,"y":-3.35},{"s":"b11","x":2,"y":-3.3},{"s":"b11","x":3,"y":-3.25},{"s":"b11","x":4,"y":-3.15},{"s":"b11","x":5,"y":-3},{"s":"b11","x":6,"y":-3.05},{"s":"b11","x":7,"y":-3.1},{"s":"b11","x":8,"y":-3.15},{"s":"b11","x":9,"y":-3.05},{"s":"b11","x":10,"y":-3.1},{"s":"b11","x":11,"y":-3.2},{"s":"b11","x":12,"y":-3.15},{"s":"b11","x":13,"y":-3.25},{"s":"b11","x":14,"y":-3.35},{"s":"b11","x":15,"y":-3.2},{"s":"b11","x":16,"y":-3.25},{"s":"b11","x":17,"y":-3.3},{"s":"b11","x":18,"y":-3.4},{"s":"b11","x":19,"y":-3.3},{"s":"b11","x":20,"y":-3.28},{"s":"b11","x":21,"y":-3.25},{"s":"b11","x":22,"y":-3.2},{"s":"b11","x":23,"y":-3.15},{"s":"b11","x":24,"y":-3},{"s":"b11","x":25,"y":-2.75},{"s":"b11","x":26,"y":-2.5},{"s":"b11","x":27,"y":-2.2},{"s":"b11","x":28,"y":-1.9},{"s":"b11","x":29,"y":-1.58},{"s":"b11","x":30,"y":-1.25},{"s":"b11","x":31,"y":-1},{"s":"b11","x":32,"y":-0.84},{"s":"b11","x":33,"y":-0.74},{"s":"b11","x":34,"y":-0.69},{"s":"b11","x":35,"y":-0.67},{"s":"b11","x":36,"y":-0.66},{"s":"b11","x":37,"y":-0.66},{"s":"b11","x":38,"y":-0.66},{"s":"b11","x":39,"y":-0.66},{"s":"b11","x":40,"y":-0.66},
{"s":"b12","x":1,"y":-3.48},{"s":"b12","x":2,"y":-3.3},{"s":"b12","x":3,"y":-3.32},{"s":"b12","x":4,"y":-3.35},{"s":"b12","x":5,"y":-3.25},{"s":"b12","x":6,"y":-3.2},{"s":"b12","x":7,"y":-3.1},{"s":"b12","x":8,"y":-3.05},{"s":"b12","x":9,"y":-3.1},{"s":"b12","x":10,"y":-2.95},{"s":"b12","x":11,"y":-3.05},{"s":"b12","x":12,"y":-3.15},{"s":"b12","x":13,"y":-3.2},{"s":"b12","x":14,"y":-3.25},{"s":"b12","x":15,"y":-3.3},{"s":"b12","x":16,"y":-3.4},{"s":"b12","x":17,"y":-3.45},{"s":"b12","x":18,"y":-3.48},{"s":"b12","x":19,"y":-3.5},{"s":"b12","x":20,"y":-3.48},{"s":"b12","x":21,"y":-3.2},{"s":"b12","x":22,"y":-3.1},{"s":"b12","x":23,"y":-3},{"s":"b12","x":24,"y":-2.95},{"s":"b12","x":25,"y":-2.75},{"s":"b12","x":26,"y":-2.48},{"s":"b12","x":27,"y":-2.12},{"s":"b12","x":28,"y":-1.8},{"s":"b12","x":29,"y":-1.48},{"s":"b12","x":30,"y":-1.18},{"s":"b12","x":31,"y":-0.95},{"s":"b12","x":32,"y":-0.8},{"s":"b12","x":33,"y":-0.7},{"s":"b12","x":34,"y":-0.65},{"s":"b12","x":35,"y":-0.62},{"s":"b12","x":36,"y":-0.61},{"s":"b12","x":37,"y":-0.6},{"s":"b12","x":38,"y":-0.59},{"s":"b12","x":39,"y":-0.59},{"s":"b12","x":40,"y":-0.59},
{"s":"b13","x":1,"y":-3.4},{"s":"b13","x":2,"y":-3.35},{"s":"b13","x":3,"y":-3.3},{"s":"b13","x":4,"y":-3.38},{"s":"b13","x":5,"y":-3.2},{"s":"b13","x":6,"y":-3.1},{"s":"b13","x":7,"y":-3.15},{"s":"b13","x":8,"y":-3.2},{"s":"b13","x":9,"y":-3.05},{"s":"b13","x":10,"y":-3.15},{"s":"b13","x":11,"y":-3.25},{"s":"b13","x":12,"y":-3.3},{"s":"b13","x":13,"y":-3.2},{"s":"b13","x":14,"y":-3.1},{"s":"b13","x":15,"y":-2.85},{"s":"b13","x":16,"y":-2.55},{"s":"b13","x":17,"y":-2.2},{"s":"b13","x":18,"y":-1.88},{"s":"b13","x":19,"y":-1.58},{"s":"b13","x":20,"y":-1.32},{"s":"b13","x":21,"y":-1.12},{"s":"b13","x":22,"y":-0.98},{"s":"b13","x":23,"y":-0.9},{"s":"b13","x":24,"y":-0.84},{"s":"b13","x":25,"y":-0.8},{"s":"b13","x":26,"y":-0.77},{"s":"b13","x":27,"y":-0.75},{"s":"b13","x":28,"y":-0.74},{"s":"b13","x":29,"y":-0.73},{"s":"b13","x":30,"y":-0.72},{"s":"b13","x":31,"y":-0.72},{"s":"b13","x":32,"y":-0.72},{"s":"b13","x":33,"y":-0.71},{"s":"b13","x":34,"y":-0.71},{"s":"b13","x":35,"y":-0.71},{"s":"b13","x":36,"y":-0.71},{"s":"b13","x":37,"y":-0.71},{"s":"b13","x":38,"y":-0.71},{"s":"b13","x":39,"y":-0.71},{"s":"b13","x":40,"y":-0.71}
],
"stdA": [{"ct":11.18,"q":9},{"ct":11.89,"q":9},{"ct":15.15,"q":8},{"ct":15.4,"q":8},{"ct":18.65,"q":7},{"ct":22.17,"q":6},{"ct":23.03,"q":6},{"ct":27.1,"q":5},{"ct":27.6,"q":5}],
"fitA": [{"ct":9.92,"q":9.38},{"ct":28.67,"q":4.617}],
"stdB": [{"ct":12.67,"q":8},{"ct":13.08,"q":8},{"ct":13.35,"q":8},{"ct":16.46,"q":7},{"ct":16.83,"q":7},{"ct":19.27,"q":6},{"ct":19.65,"q":6},{"ct":19.99,"q":6},{"ct":23.27,"q":5},{"ct":27.03,"q":4},{"ct":27.3,"q":4}],
"fitB": [{"ct":11.63,"q":8.4},{"ct":28.46,"q":3.58}],
"one": [{}]
},
"columns": 2,
"align": "each",
"bounds": "flush",
"spacing": {"row": 40, "column": 0},
"concat": [
{
"width": 603, "height": 560,
"layer": [
{"data":{"name":"one"},"mark":{"type":"rect","fillOpacity":0,"stroke":"#a8a89a","strokeWidth":1},"encoding":{"x":{"datum":-14.271},"x2":{"datum":42.842},"y":{"datum":-0.611},"y2":{"datum":-4.1318}}},
{"data":{"name":"one"},"mark":{"type":"rect","fill":"#ECE9D8"},"encoding":{"x":{"datum":-13.301},"x2":{"datum":1.438},"y":{"datum":-0.5715},"y2":{"datum":-0.6506}}},
{"data":{"name":"one"},"mark":{"type":"text","text":"Data and Standards","align":"left","baseline":"middle","font":"Liberation Sans","fontSize":16,"color":"#222"},"encoding":{"x":{"datum":-13.01},"y":{"datum":-0.609}}},
{"data":{"name":"one"},"mark":{"type":"rule","color":"#8a8a80","strokeWidth":1.5},"encoding":{"x":{"datum":-12.671},"y":{"datum":-0.7693},"y2":{"datum":-1.5275}}},
{"data":{"name":"one"},"mark":{"type":"rule","color":"#8a8a80","strokeWidth":1.5},"encoding":{"x":{"datum":-12.671},"y":{"datum":-1.9231},"y2":{"datum":-2.6813}}},
{"data":{"name":"one"},"mark":{"type":"rule","color":"#555","strokeWidth":2,"strokeDash":[2,6]},"encoding":{"x":{"datum":-11.003},"y":{"datum":-0.7693},"y2":{"datum":-1.5275}}},
{"data":{"name":"one"},"mark":{"type":"rule","color":"#555","strokeWidth":2,"strokeDash":[2,6]},"encoding":{"x":{"datum":-11.003},"y":{"datum":-1.9231},"y2":{"datum":-2.6813}}},
{"data":{"name":"one"},"mark":{"type":"text","text":"Y","align":"center","baseline":"middle","font":"Liberation Sans","fontSize":16,"color":"#333"},"encoding":{"x":{"datum":-12.137},"y":{"datum":-1.6706}}},
{"data":{"name":"one"},"mark":{"type":"text","text":"X","align":"center","baseline":"middle","font":"Liberation Sans","fontSize":16,"color":"#333"},"encoding":{"x":{"datum":-12.302},"y":{"datum":-2.8461}}},
{"data":{"name":"one"},"mark":{"type":"rect","fill":"white","stroke":"#b8b8b0","strokeWidth":1},"encoding":{"x":{"datum":-10.198},"x2":{"datum":-8.453},"y":{"datum":-0.7561},"y2":{"datum":-3.9472}}},
{"data":{"name":"one"},"mark":{"type":"rect","fill":"white","stroke":"#404040","strokeWidth":1.5},"encoding":{"x":{"datum":-8.356},"x2":{"datum":42.357},"y":{"datum":-0.7033},"y2":{"datum":-3.9538}}},
{"data":{"name":"one"},"mark":{"type":"rect","fill":"white","stroke":"#b8b8b0","strokeWidth":1},"encoding":{"x":{"datum":-8.356},"x2":{"datum":42.357},"y":{"datum":-3.967},"y2":{"datum":-4.0857}}},
{"data":{"name":"one"},"mark":{"type":"rect","fill":"#ECE9D8","stroke":"#999","strokeWidth":1},"encoding":{"x":{"datum":-5.835},"x2":{"datum":-1.762},"y":{"datum":-3.967},"y2":{"datum":-4.0857}}},
{"data":{"name":"one"},"mark":{"type":"rect","fill":"white","stroke":"#555","strokeWidth":1.2},"encoding":{"x":{"datum":-7.609},"x2":{"datum":-6.155},"y":{"datum":-3.637},"y2":{"datum":-3.7297}}},
{"data":{"name":"one"},"mark":{"type":"rect","fill":"white","stroke":"#555","strokeWidth":1.2},"encoding":{"x":{"datum":-7.609},"x2":{"datum":-6.155},"y":{"datum":-3.789},"y2":{"datum":-3.8813}}},
{"data":{"name":"one"},"mark":{"type":"text","text":"✔","align":"center","baseline":"middle","font":"DejaVu Sans","fontSize":13,"color":"#000"},"encoding":{"x":{"datum":-6.882},"y":{"datum":-3.6835}}},
{"data":{"name":"one"},"mark":{"type":"text","text":"✔","align":"center","baseline":"middle","font":"DejaVu Sans","fontSize":13,"color":"#000"},"encoding":{"x":{"datum":-6.882},"y":{"datum":-3.8355}}},
{"data":{"name":"one"},"mark":{"type":"text","text":"Log","align":"left","baseline":"middle","font":"Liberation Sans","fontSize":16.5,"color":"#222"},"encoding":{"x":{"datum":-5.03},"y":{"datum":-3.6835}}},
{"data":{"name":"one"},"mark":{"type":"text","text":"AutoScale","align":"left","baseline":"middle","font":"Liberation Sans","fontSize":16.5,"color":"#222"},"encoding":{"x":{"datum":-5.03},"y":{"datum":-3.8355}}},
{"data":{"name":"one"},"mark":{"type":"rect","fillOpacity":0,"stroke":"#000","strokeWidth":1.3},"encoding":{"x":{"datum":-7.512},"x2":{"datum":-5.35},"y":{"datum":-1.6481},"y2":{"datum":-2.5495}}},
{"data":{"name":"one"},"mark":{"type":"rect","fillOpacity":0,"stroke":"#000","strokeWidth":1.3},"encoding":{"x":{"datum":18.504},"x2":{"datum":23.352},"y":{"datum":-3.7824},"y2":{"datum":-3.934}}},
{"data":{"name":"one"},"mark":{"type":"rule","color":"#444","strokeWidth":2,"strokeDash":[20,8]},"encoding":{"x":{"datum":0.885},"x2":{"datum":42.16},"y":{"datum":-2.03}}},
{"data":{"name":"curvesA"},"mark":{"type":"line","strokeWidth":1.2},
 "encoding":{
  "x":{"field":"x","type":"quantitative","scale":{"domain":[0.885,40.71],"range":[167.3,578],"nice":false,"zero":false},
       "axis":{"zindex":1,"tickCount":500,"orient":"bottom","offset":-107,"values":[2,4,6,8,10,12,14,16,18,20,22,24,26,28,30,32,34,36,38,40],"labelExpr":"datum.value % 10 == 0 ? format(datum.value,'d') : ''","tickSize":10,"labelPadding":0,"title":"Cycle","titleY":53.5,"titleBaseline":"middle"}},
  "y":{"field":"y","type":"quantitative","scale":{"domain":[-3.506,-0.7475],"range":[453,34.7],"nice":false,"zero":false},
       "axis":{"zindex":1,"tickCount":500,"orient":"left","offset":-167.3,"values":[-3.4,-3.3,-3.2,-3.1,-3,-2.9,-2.8,-2.7,-2.6,-2.5,-2.4,-2.3,-2.2,-2.1,-2,-1.9,-1.8,-1.7,-1.6,-1.5,-1.4,-1.3,-1.2,-1.1,-1,-0.9,-0.8],
       "labelExpr":"abs(datum.value*2-round(datum.value*2))<0.01 ? '-' + format(abs(datum.value),'~g') : ''",
       "tickSize":{"condition":{"test":"abs(datum.value*2-round(datum.value*2))<0.01","value":13},"value":7},
       "labelPadding":0,"title":"Fluorescence","titleX":-75.5,"titleY":239.7,"titleBaseline":"middle","titleFontSize":20}},
  "color":{"field":"s","type":"nominal","legend":null,"scale":{"domain":["a1","a2","a3","a4","a5","a6","a7","a8","a9","a10","a11","a12","a13","a14"],"range":["#c8502a","#3cb44b","#1a237e","#8e44ad","#e040a0","#2a8f9a","#c2185b","#9c27b0","#3f6fc0","#5bc8e8","#b5b040","#43b85a","#a0185a","#5a2a8a"]}}
 }},
{"data":{"name":"one"},"mark":{"type":"text","text":"A","align":"center","baseline":"middle","font":"Liberation Sans","fontSize":29,"fontWeight":"bold","color":"#000"},"encoding":{"x":{"datum":-17.664},"y":{"datum":-0.6044}}},
{"data":{"name":"one"},"mark":{"type":"rule","color":"#222","strokeWidth":1},"encoding":{"x":{"datum":-20.476},"y":{"datum":-0.3934},"y2":{"datum":-8.5098}}},
{"data":{"name":"one"},"mark":{"type":"rule","color":"#222","strokeWidth":1},"encoding":{"x":{"datum":103.155},"y":{"datum":-0.3934},"y2":{"datum":-8.5098}}},
{"data":{"name":"one"},"mark":{"type":"rule","color":"#222","strokeWidth":1},"encoding":{"x":{"datum":-20.476},"x2":{"datum":103.155},"y":{"datum":-0.3934}}}
]
},
{
"width": 593, "height": 560,
"layer": [
{"data":{"name":"one"},"mark":{"type":"rule","color":"#8a8a80","strokeWidth":1.5},"encoding":{"x":{"datum":4.74},"y":{"datum":9.36},"y2":{"datum":7.993}}},
{"data":{"name":"one"},"mark":{"type":"rule","color":"#8a8a80","strokeWidth":1.5},"encoding":{"x":{"datum":4.74},"y":{"datum":7.194},"y2":{"datum":5.823}}},
{"data":{"name":"one"},"mark":{"type":"rule","color":"#555","strokeWidth":2,"strokeDash":[2,6]},"encoding":{"x":{"datum":5.56},"y":{"datum":9.36},"y2":{"datum":7.993}}},
{"data":{"name":"one"},"mark":{"type":"rule","color":"#555","strokeWidth":2,"strokeDash":[2,6]},"encoding":{"x":{"datum":5.56},"y":{"datum":7.194},"y2":{"datum":5.823}}},
{"data":{"name":"one"},"mark":{"type":"text","text":"Y","align":"center","baseline":"middle","font":"Liberation Sans","fontSize":16,"color":"#333"},"encoding":{"x":{"datum":4.984},"y":{"datum":7.652}}},
{"data":{"name":"one"},"mark":{"type":"text","text":"X","align":"center","baseline":"middle","font":"Liberation Sans","fontSize":16,"color":"#333"},"encoding":{"x":{"datum":4.984},"y":{"datum":5.522}}},
{"data":{"name":"one"},"mark":{"type":"rect","fill":"white","stroke":"#b8b8b0","strokeWidth":1},"encoding":{"x":{"datum":5.972},"x2":{"datum":6.629},"y":{"datum":9.3638},"y2":{"datum":3.758}}},
{"data":{"name":"one"},"mark":{"type":"rect","fill":"white","stroke":"#404040","strokeWidth":1.5},"encoding":{"x":{"datum":6.7105},"x2":{"datum":29.828},"y":{"datum":9.4603},"y2":{"datum":3.758}}},
{"data":{"name":"one"},"mark":{"type":"rect","fill":"white","stroke":"#b8b8b0","strokeWidth":1},"encoding":{"x":{"datum":6.7105},"x2":{"datum":29.828},"y":{"datum":3.734},"y2":{"datum":3.529}}},
{"data":{"name":"one"},"mark":{"type":"rect","fill":"#ECE9D8","stroke":"#999","strokeWidth":1},"encoding":{"x":{"datum":7.844},"x2":{"datum":9.673},"y":{"datum":3.734},"y2":{"datum":3.529}}},
{"data":{"name":"one"},"mark":{"type":"text","text":"y = -0.25 x + 10.38; \u00a0R^2 = 0.994","align":"left","baseline":"middle","font":"Liberation Sans","fontSize":16.5,"color":"#111"},"encoding":{"x":{"datum":6.844},"y":{"datum":9.681}}},
{"data":{"name":"one"},"mark":{"type":"rect","fill":"white","stroke":"#707070","strokeWidth":1.2},"encoding":{"x":{"datum":22.095},"x2":{"datum":22.833},"y":{"datum":9.7822},"y2":{"datum":9.5808}}},
{"data":{"name":"one"},"mark":{"type":"text","text":"Show selected wells","align":"left","baseline":"middle","font":"Liberation Sans","fontSize":16.5,"color":"#111"},"encoding":{"x":{"datum":23.293},"y":{"datum":9.681}}},
{"data":{"name":"one"},"mark":{"type":"rect","fillOpacity":0,"stroke":"#000","strokeWidth":1.3},"encoding":{"x":{"datum":7.041},"x2":{"datum":8.059},"y":{"datum":7.8726},"y2":{"datum":6.1655}}},
{"data":{"name":"one"},"mark":{"type":"rect","fillOpacity":0,"stroke":"#000","strokeWidth":1.3},"encoding":{"x":{"datum":17.406},"x2":{"datum":21.438},"y":{"datum":4.0956},"y2":{"datum":3.7942}}},
{"data":{"name":"fitA"},"mark":{"type":"line","color":"#111","strokeWidth":1.3},"encoding":{"x":{"field":"ct","type":"quantitative"},"y":{"field":"q","type":"quantitative"}}},
{"data":{"name":"stdA"},"mark":{"type":"circle","color":"#000","opacity":1,"size":160},
 "encoding":{
  "x":{"field":"ct","type":"quantitative","scale":{"domain":[9.51,29.3],"range":[115.8,577],"nice":false,"zero":false},
       "axis":{"zindex":1,"tickCount":500,"orient":"bottom","offset":-108,"values":[10,11,12,13,14,15,16,17,18,19,20,21,22,23,24,25,26,27,28,29],"labelExpr":"datum.value == 26 ? '20' : ((datum.value == 10 || datum.value == 15 || datum.value == 20) ? format(datum.value,'d') : '')","tickSize":9,"labelPadding":12,"title":"C(T) Cycle","titleY":53.5,"titleBaseline":"middle"}},
  "y":{"field":"q","type":"quantitative","scale":{"domain":[4.59,9.4],"range":[452,53],"nice":false,"zero":false},
       "axis":{"zindex":1,"tickCount":500,"orient":"left","offset":-115.8,"values":[4.8,5,5.2,5.4,5.6,5.8,6,6.2,6.4,6.6,6.8,7,7.2,7.4,7.6,7.8,8,8.2,8.4,8.6,8.8,9,9.2],
       "labelExpr":"abs(datum.value-round(datum.value))<0.01 ? format(datum.value,'d') : ''",
       "tickSize":{"condition":{"test":"abs(datum.value-round(datum.value))<0.01","value":11},"value":6},
       "labelPadding":5,"title":"Log Quantity","titleX":-45.6,"titleY":250.5,"titleBaseline":"middle","titleFontSize":20}}
 }}
]
},
{
"width": 611, "height": 545,
"title": {"text":"Figure 1 A ND1 quantitative PCR amplification of the power curve in the standard and sample. B","subtitle":"the power curve in the standard and sample.","orient":"bottom","anchor":"start","frame":"group","dx":-42,"offset":30.7,"baseline":"alphabetic","font":"Liberation Sans","fontSize":21.5,"fontWeight":"bold","color":"#111","subtitleFont":"Liberation Sans","subtitleFontSize":19,"subtitleColor":"#333","subtitlePadding":3},
"layer": [
{"data":{"name":"one"},"mark":{"type":"rect","fillOpacity":0,"stroke":"#a8a89a","strokeWidth":1},"encoding":{"x":{"datum":-13.467},"x2":{"datum":42.984},"y":{"datum":-0.1303},"y2":{"datum":-4.2838}}},
{"data":{"name":"one"},"mark":{"type":"rect","fill":"#ECE9D8"},"encoding":{"x":{"datum":-12.908},"x2":{"datum":1.065},"y":{"datum":-0.0829},"y2":{"datum":-0.1778}}},
{"data":{"name":"one"},"mark":{"type":"text","text":"Data and Standards","align":"left","baseline":"middle","font":"Liberation Sans","fontSize":16,"color":"#222"},"encoding":{"x":{"datum":-12.628},"y":{"datum":-0.1303}}},
{"data":{"name":"one"},"mark":{"type":"rule","color":"#8a8a80","strokeWidth":1.5},"encoding":{"x":{"datum":-12.442},"y":{"datum":-0.3281},"y2":{"datum":-1.1984}}},
{"data":{"name":"one"},"mark":{"type":"rule","color":"#8a8a80","strokeWidth":1.5},"encoding":{"x":{"datum":-12.442},"y":{"datum":-1.673},"y2":{"datum":-2.5433}}},
{"data":{"name":"one"},"mark":{"type":"rule","color":"#555","strokeWidth":2,"strokeDash":[2,6]},"encoding":{"x":{"datum":-10.765},"y":{"datum":-0.3281},"y2":{"datum":-1.1984}}},
{"data":{"name":"one"},"mark":{"type":"rule","color":"#555","strokeWidth":2,"strokeDash":[2,6]},"encoding":{"x":{"datum":-10.765},"y":{"datum":-1.673},"y2":{"datum":-2.5433}}},
{"data":{"name":"one"},"mark":{"type":"text","text":"Y","align":"center","baseline":"middle","font":"Liberation Sans","fontSize":16,"color":"#333"},"encoding":{"x":{"datum":-11.976},"y":{"datum":-1.396}}},
{"data":{"name":"one"},"mark":{"type":"text","text":"X","align":"center","baseline":"middle","font":"Liberation Sans","fontSize":16,"color":"#333"},"encoding":{"x":{"datum":-11.976},"y":{"datum":-2.741}}},
{"data":{"name":"one"},"mark":{"type":"rect","fill":"white","stroke":"#b8b8b0","strokeWidth":1},"encoding":{"x":{"datum":-9.834},"x2":{"datum":-8.343},"y":{"datum":-0.3281},"y2":{"datum":-4.007}}},
{"data":{"name":"one"},"mark":{"type":"rect","fill":"white","stroke":"#404040","strokeWidth":1.5},"encoding":{"x":{"datum":-8.11},"x2":{"datum":42.146},"y":{"datum":-0.249},"y2":{"datum":-4.0148}}},
{"data":{"name":"one"},"mark":{"type":"rect","fill":"white","stroke":"#b8b8b0","strokeWidth":1},"encoding":{"x":{"datum":-8.11},"x2":{"datum":42.146},"y":{"datum":-4.0306},"y2":{"datum":-4.181}}},
{"data":{"name":"one"},"mark":{"type":"rect","fill":"#ECE9D8","stroke":"#999","strokeWidth":1},"encoding":{"x":{"datum":-5.455},"x2":{"datum":-1.636},"y":{"datum":-4.0306},"y2":{"datum":-4.181}}},
{"data":{"name":"one"},"mark":{"type":"rect","fill":"white","stroke":"#555","strokeWidth":1.2},"encoding":{"x":{"datum":-7.458},"x2":{"datum":-6.061},"y":{"datum":-3.6612},"y2":{"datum":-3.7719}}},
{"data":{"name":"one"},"mark":{"type":"rect","fill":"white","stroke":"#555","strokeWidth":1.2},"encoding":{"x":{"datum":-7.458},"x2":{"datum":-6.061},"y":{"datum":-3.8463},"y2":{"datum":-3.9571}}},
{"data":{"name":"one"},"mark":{"type":"text","text":"✔","align":"center","baseline":"middle","font":"DejaVu Sans","fontSize":13,"color":"#000"},"encoding":{"x":{"datum":-6.76},"y":{"datum":-3.7166}}},
{"data":{"name":"one"},"mark":{"type":"text","text":"✔","align":"center","baseline":"middle","font":"DejaVu Sans","fontSize":13,"color":"#000"},"encoding":{"x":{"datum":-6.76},"y":{"datum":-3.9017}}},
{"data":{"name":"one"},"mark":{"type":"text","text":"Log","align":"left","baseline":"middle","font":"Liberation Sans","fontSize":16.5,"color":"#222"},"encoding":{"x":{"datum":-4.925},"y":{"datum":-3.7166}}},
{"data":{"name":"one"},"mark":{"type":"text","text":"AutoScale","align":"left","baseline":"middle","font":"Liberation Sans","fontSize":16.5,"color":"#222"},"encoding":{"x":{"datum":-4.925},"y":{"datum":-3.9017}}},
{"data":{"name":"one"},"mark":{"type":"rect","fillOpacity":0,"stroke":"#000","strokeWidth":1.3},"encoding":{"x":{"datum":-7.3},"x2":{"datum":-5.185},"y":{"datum":-1.3566},"y2":{"datum":-2.4507}}},
{"data":{"name":"one"},"mark":{"type":"rect","fillOpacity":0,"stroke":"#000","strokeWidth":1.3},"encoding":{"x":{"datum":18.559},"x2":{"datum":23.273},"y":{"datum":-3.8226},"y2":{"datum":-3.9935}}},
{"data":{"name":"one"},"mark":{"type":"rule","color":"#444","strokeWidth":2,"strokeDash":[20,9]},"encoding":{"x":{"datum":1.0},"x2":{"datum":41.87},"y":{"datum":-2.11}}},
{"data":{"name":"curvesB"},"mark":{"type":"line","strokeWidth":1.2},
 "encoding":{
  "x":{"field":"x","type":"quantitative","scale":{"domain":[1.0,41.0],"range":[159.3,588.7],"nice":false,"zero":false},
       "axis":{"zindex":1,"tickCount":500,"orient":"bottom","offset":-106,"values":[2,4,6,8,10,12,14,16,18,20,22,24,26,28,30,32,34,36,38,40],"labelExpr":"datum.value % 10 == 0 ? format(datum.value,'d') : ''","tickSize":10,"labelPadding":11,"title":"Cycle","titleY":51.5,"titleBaseline":"middle"}},
  "y":{"field":"y","type":"quantitative","scale":{"domain":[-3.5,-0.302],"range":[439,34.7],"nice":false,"zero":false},
       "axis":{"zindex":1,"tickCount":500,"orient":"left","offset":-159.3,"values":[-3.4,-3.3,-3.2,-3.1,-3,-2.9,-2.8,-2.7,-2.6,-2.5,-2.4,-2.3,-2.2,-2.1,-2,-1.9,-1.8,-1.7,-1.6,-1.5,-1.4,-1.3,-1.2,-1.1,-1,-0.9,-0.8,-0.7,-0.6,-0.5,-0.4],
       "labelExpr":"abs(datum.value*2-round(datum.value*2))<0.01 ? '-' + format(abs(datum.value),'~g') : ''",
       "tickSize":{"condition":{"test":"abs(datum.value*2-round(datum.value*2))<0.01","value":18},"value":8},
       "labelPadding":0,"title":"Fluorescence","titleX":-77.8,"titleY":237.2,"titleBaseline":"middle","titleFontSize":20}},
  "color":{"field":"s","type":"nominal","legend":null,"scale":{"domain":["b1","b2","b3","b4","b5","b6","b7","b8","b9","b10","b11","b12","b13"],"range":["#9b30c8","#e050b0","#9ccc3c","#1a1a60","#d83a50","#d8c83a","#3a5ad8","#8a1a50","#3ab8d8","#2ea040","#222222","#e8a030","#7a1a40"]}}
 }},
{"data":{"name":"one"},"mark":{"type":"text","text":"B","align":"center","baseline":"middle","font":"Liberation Sans","fontSize":29,"fontWeight":"bold","color":"#000"},"encoding":{"x":{"datum":-16.075},"y":{"datum":-0.1936}}}
]
},
{
"width": 593, "height": 545,
"title": {"text":"β-actin quantitative PCR amplification of","orient":"bottom","anchor":"end","frame":"group","dx":16,"offset":30.7,"baseline":"alphabetic","font":"Liberation Sans","fontSize":15.5,"fontWeight":"normal","color":"#333"},
"layer": [
{"data":{"name":"one"},"mark":{"type":"rect","fill":"white","stroke":"#b8b8b0","strokeWidth":1},"encoding":{"x":{"datum":8.127},"x2":{"datum":8.703},"y":{"datum":8.4266},"y2":{"datum":2.7405}}},
{"data":{"name":"one"},"mark":{"type":"rect","fill":"white","stroke":"#404040","strokeWidth":1.5},"encoding":{"x":{"datum":8.88},"x2":{"datum":29.208},"y":{"datum":8.4635},"y2":{"datum":2.7405}}},
{"data":{"name":"one"},"mark":{"type":"rect","fill":"white","stroke":"#b8b8b0","strokeWidth":1},"encoding":{"x":{"datum":8.88},"x2":{"datum":29.208},"y":{"datum":2.7035},"y2":{"datum":2.4697}}},
{"data":{"name":"one"},"mark":{"type":"rect","fill":"#ECE9D8","stroke":"#999","strokeWidth":1},"encoding":{"x":{"datum":9.561},"x2":{"datum":11.485},"y":{"datum":2.7035},"y2":{"datum":2.4697}}},
{"data":{"name":"one"},"mark":{"type":"text","text":"y = -0.28 x + 11.69; \u00a0R^2 = 0.996","align":"left","baseline":"middle","font":"Liberation Sans","fontSize":16.5,"color":"#111"},"encoding":{"x":{"datum":8.992},"y":{"datum":8.685}}},
{"data":{"name":"one"},"mark":{"type":"rect","fill":"white","stroke":"#707070","strokeWidth":1.2},"encoding":{"x":{"datum":22.43},"x2":{"datum":23.038},"y":{"datum":8.792},"y2":{"datum":8.5866}}},
{"data":{"name":"one"},"mark":{"type":"text","text":"Show selected wells","align":"left","baseline":"middle","font":"Liberation Sans","fontSize":16.5,"color":"#111"},"encoding":{"x":{"datum":23.511},"y":{"datum":8.685}}},
{"data":{"name":"one"},"mark":{"type":"rect","fillOpacity":0,"stroke":"#000","strokeWidth":1.3},"encoding":{"x":{"datum":9.111},"x2":{"datum":10.033},"y":{"datum":6.8635},"y2":{"datum":5.1614}}},
{"data":{"name":"one"},"mark":{"type":"rect","fillOpacity":0,"stroke":"#000","strokeWidth":1.3},"encoding":{"x":{"datum":18.296},"x2":{"datum":21.821},"y":{"datum":3.0888},"y2":{"datum":2.7811}}},
{"data":{"name":"fitB"},"mark":{"type":"line","color":"#111","strokeWidth":1.3},"encoding":{"x":{"field":"ct","type":"quantitative"},"y":{"field":"q","type":"quantitative"}}},
{"data":{"name":"stdB"},"mark":{"type":"circle","color":"#000","opacity":1,"size":160},
 "encoding":{
  "x":{"field":"ct","type":"quantitative","scale":{"domain":[11.28,28.86],"range":[90.5,578.4],"nice":false,"zero":false},
       "axis":{"zindex":1,"tickCount":500,"orient":"bottom","offset":-109.7,"values":[12,13,14,15,16,17,18,19,20,21,22,23,24,25,26,27,28],"labelExpr":"datum.value % 5 == 0 ? format(datum.value,'d') : ''","tickSize":11,"labelPadding":9,"title":"C(T) Cycle","titleY":51.9,"titleBaseline":"middle"}},
  "y":{"field":"q","type":"quantitative","scale":{"domain":[3.574,8.402],"range":[435.3,43],"nice":false,"zero":false},
       "axis":{"zindex":1,"tickCount":500,"orient":"left","offset":-90.5,"values":[3.6,3.8,4,4.2,4.4,4.6,4.8,5,5.2,5.4,5.6,5.8,6,6.2,6.4,6.6,6.8,7,7.2,7.4,7.6,7.8,8,8.2],
       "labelExpr":"abs(datum.value-round(datum.value))<0.01 ? format(datum.value,'d') : ''",
       "tickSize":{"condition":{"test":"abs(datum.value-round(datum.value))<0.01","value":11},"value":6},
       "labelPadding":6,"title":"Log Quantity","titleX":-47.4,"titleY":237.2,"titleBaseline":"middle","titleFontSize":20}}
 }}
]
}
],
"config": {
 "view": {"fill": "#ECE9D8", "stroke": null},
 "axis": {"grid": false, "zindex": 1, "domainColor": "#000", "domainWidth": 2, "tickColor": "#000", "tickWidth": 1.5, "labelFont": "Liberation Mono", "labelFontSize": 16, "labelColor": "#111", "labelOverlap": false, "labelFlush": false, "labelBound": false, "titleFont": "Liberation Sans", "titleFontWeight": "bold", "titleFontSize": 17, "titleColor": "#000"}
}
}
